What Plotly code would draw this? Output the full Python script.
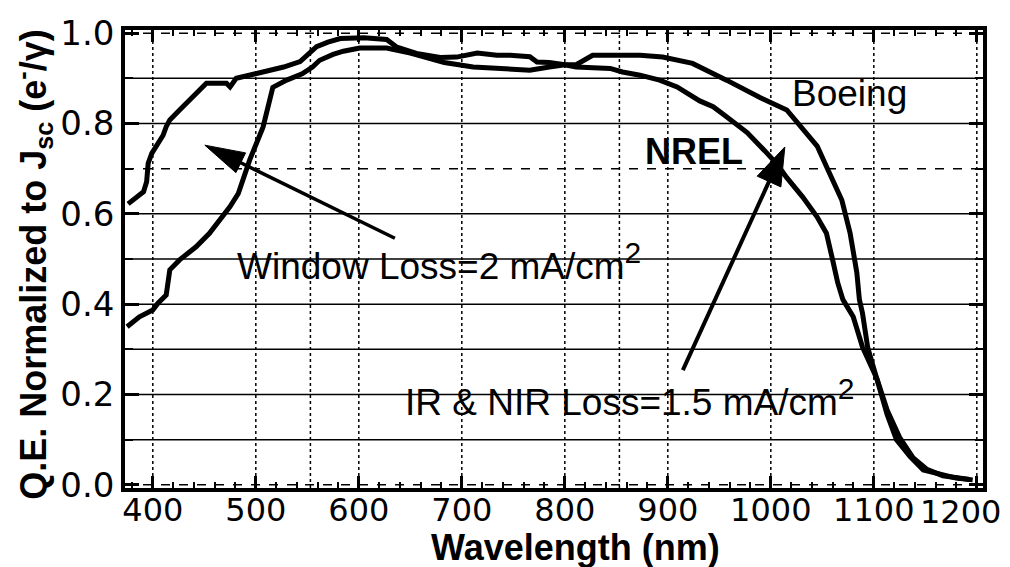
import math
import plotly.graph_objects as go

# ---- data ----
boeing_nm = [376, 386, 391, 394, 395.5, 399, 405, 410, 413, 416.5, 426, 436, 446, 452, 471.5, 475, 481,
             495, 513, 527, 543, 559, 570, 582, 605, 627, 637, 656, 679, 695, 715, 734, 747, 766, 773,
             785, 800, 811, 827, 850, 873, 895, 924, 957, 989, 1015.5, 1031, 1045, 1057, 1069, 1077,
             1083.5, 1086, 1089, 1094, 1103, 1113, 1122, 1135, 1148, 1164, 1180, 1196]
boeing_qe = [0.622, 0.638, 0.649, 0.671, 0.712, 0.734, 0.756, 0.774, 0.793, 0.808, 0.830, 0.852, 0.874,
             0.889, 0.889, 0.881, 0.900, 0.907, 0.918, 0.925, 0.937, 0.970, 0.980, 0.988, 0.990, 0.986,
             0.969, 0.955, 0.946, 0.947, 0.956, 0.951, 0.951, 0.948, 0.936, 0.935, 0.930, 0.930, 0.951,
             0.951, 0.951, 0.947, 0.933, 0.896, 0.858, 0.830, 0.790, 0.750, 0.690, 0.630, 0.557, 0.470,
             0.410, 0.380, 0.305, 0.232, 0.155, 0.100, 0.063, 0.033, 0.024, 0.015, 0.011]

nrel_nm = [375, 387, 400, 405, 413, 416.5, 426, 442, 455, 465, 475, 483, 494, 507, 516.5, 530, 545, 555,
           562, 575, 585, 601, 627, 650, 683, 711, 734, 753, 766, 785, 800, 811, 844, 856, 873, 892,
           909, 931, 944, 957, 977, 996, 1006, 1015.5, 1031, 1045, 1054, 1060, 1065, 1070, 1080, 1089,
           1103, 1113, 1125, 1138, 1151, 1167, 1180, 1193]
nrel_qe = [0.350, 0.372, 0.387, 0.402, 0.420, 0.476, 0.498, 0.527, 0.557, 0.586, 0.616, 0.645, 0.719,
           0.792, 0.880, 0.896, 0.910, 0.925, 0.940, 0.953, 0.960, 0.967, 0.967, 0.956, 0.935, 0.925,
           0.922, 0.920, 0.918, 0.925, 0.930, 0.925, 0.922, 0.914, 0.907, 0.896, 0.881, 0.850, 0.837,
           0.815, 0.780, 0.735, 0.710, 0.680, 0.637, 0.593, 0.557, 0.498, 0.447, 0.410, 0.372, 0.305,
           0.235, 0.165, 0.105, 0.060, 0.035, 0.020, 0.015, 0.012]

x_ticks = [400, 500, 600, 700, 800, 900, 1000, 1100, 1200]
x_tick_labels = ["400", "500", "600", "700", "800", "900", "1000", "1100", "1200"]
y_ticks = [0.0, 0.2, 0.4, 0.6, 0.8, 1.0]
h_grid_solid = [0.1, 0.2, 0.3, 0.4, 0.5, 0.6, 0.8, 0.9]
h_grid_dashed = [0.0, 0.7, 1.0]
v_grid = [400, 500, 553, 600, 700, 800, 853, 900, 1000, 1100, 1200]

# annotation arrows: (tail, tip) in data units
window_arrow = ((635, 0.546), (450.5, 0.752))
nir_arrow = ((914.6, 0.254), (1013.6, 0.748))

FONT = "Liberation Sans, Arial, Helvetica, sans-serif"
TICKFONT = "DejaVu Sans, Liberation Sans, Arial, sans-serif"

X_RANGE = [373, 1206]
Y_RANGE = [-0.007, 1.007]
W, H = 1002, 559
ML, MR, MT, MB = 117, 27, 22, 79
PXX = (W - ML - MR) / (X_RANGE[1] - X_RANGE[0])
PXY = (H - MT - MB) / (Y_RANGE[1] - Y_RANGE[0])


def arrow_shapes(tail, tip, head_len, head_w, width):
    dx = (tip[0] - tail[0]) * PXX
    dy = (tip[1] - tail[1]) * PXY
    n = math.hypot(dx, dy)
    ux, uy = dx / n, dy / n
    bx = tip[0] * PXX - ux * head_len
    by = tip[1] * PXY - uy * head_len
    px, py = -uy, ux
    c1 = ((bx + px * head_w / 2) / PXX, (by + py * head_w / 2) / PXY)
    c2 = ((bx - px * head_w / 2) / PXX, (by - py * head_w / 2) / PXY)
    base = ((bx + ux * 4) / PXX, (by + uy * 4) / PXY)
    line = dict(type="line", xref="x", yref="y", x0=tail[0], y0=tail[1], x1=base[0], y1=base[1],
                line=dict(color="black", width=width))
    head = dict(type="path", xref="x", yref="y",
                path=f"M{tip[0]},{tip[1]} L{c1[0]},{c1[1]} L{c2[0]},{c2[1]} Z",
                fillcolor="black", line=dict(color="black", width=1))
    return [line, head]


fig = go.Figure()
fig.add_trace(go.Scatter(x=boeing_nm, y=boeing_qe, mode="lines", name="Boeing",
                         line=dict(color="black", width=5)))
fig.add_trace(go.Scatter(x=nrel_nm, y=nrel_qe, mode="lines", name="NREL",
                         line=dict(color="black", width=5)))

shapes = []
for v in h_grid_solid:
    shapes.append(dict(type="line", xref="paper", x0=0, x1=1, yref="y", y0=v, y1=v,
                       line=dict(color="black", width=1.5), layer="below"))
for v in h_grid_dashed:
    shapes.append(dict(type="line", xref="paper", x0=0, x1=1, yref="y", y0=v, y1=v,
                       line=dict(color="black", width=1.5, dash="dash"), layer="below"))
for v in v_grid:
    shapes.append(dict(type="line", yref="paper", y0=0, y1=1, xref="x", x0=v, x1=v,
                       line=dict(color="black", width=1.5, dash="dot"), layer="below"))
shapes += arrow_shapes(window_arrow[0], window_arrow[1], 40, 22, 3.5)
shapes += arrow_shapes(nir_arrow[0], nir_arrow[1], 38, 26, 4)

ann = []
sup2 = '<sup><span style="font-size:30px">2</span></sup>'
ann.append(dict(x=479.6, y=0.494, xref="x", yref="y", xanchor="left", yanchor="middle",
                text="Window Loss=2 mA/cm" + sup2, showarrow=False,
                font=dict(family=FONT, size=37, color="black")))
ann.append(dict(x=642.7, y=0.193, xref="x", yref="y", xanchor="left", yanchor="middle",
                text="IR &amp; NIR Loss=1.5 mA/cm" + sup2, showarrow=False,
                font=dict(family=FONT, size=37, color="black")))
ann.append(dict(x=875.7, y=0.737, xref="x", yref="y", xanchor="left", yanchor="middle",
                text="<b>NREL</b>", showarrow=False,
                font=dict(family=FONT, size=36, color="black")))
ann.append(dict(x=1018.4, y=0.866, xref="x", yref="y", xanchor="left", yanchor="middle",
                text="Boeing", showarrow=False,
                font=dict(family=FONT, size=37, color="black")))
# last x tick label, nudged left so it stays inside the figure (as in the reference)
ann.append(dict(x=x_ticks[-1], y=-0.053, xref="x", yref="paper", xanchor="center", yanchor="middle",
                xshift=-16, text=x_tick_labels[-1], showarrow=False,
                font=dict(family=TICKFONT, size=32, color="black")))
# axis titles
ann.append(dict(x=0.5256, y=-0.131, xref="paper", yref="paper", xanchor="center", yanchor="middle",
                text="<b>Wavelength (nm)</b>", showarrow=False,
                font=dict(family=FONT, size=36, color="black")))
ann.append(dict(x=-0.1075, y=0.489, xref="paper", yref="paper", xanchor="center", yanchor="middle",
                textangle=-90,
                text="<b>Q.E. Normalized to J<sub>sc</sub> (e<sup>-</sup>/γ)</b>", showarrow=False,
                font=dict(family=FONT, size=36, color="black")))

fig.update_layout(
    width=W, height=H,
    margin=dict(l=ML, r=MR, t=MT, b=MB, autoexpand=False),
    paper_bgcolor="white", plot_bgcolor="white",
    showlegend=False,
    shapes=shapes, annotations=ann,
    font=dict(family=FONT, size=36, color="black"),
)
fig.update_xaxes(range=X_RANGE, tickvals=x_ticks, ticktext=x_tick_labels[:-1] + [""],
                 showgrid=False, zeroline=False, automargin=False,
                 showline=True, linecolor="black", linewidth=3.5, mirror="allticks",
                 ticks="inside", ticklen=12, tickwidth=2.5, tickcolor="black",
                 ticklabeloverflow="allow", ticklabelstandoff=-9,
                 tickfont=dict(family=TICKFONT, size=32, color="black"),
                 minor=dict(dtick=20, tick0=400, ticks="inside", ticklen=6, tickwidth=2, tickcolor="black"))
fig.update_yaxes(range=Y_RANGE, tickvals=y_ticks, tickformat=".1f", showgrid=False, automargin=False,
                 zeroline=False, showline=True, linecolor="black", linewidth=3.5, mirror="allticks",
                 ticks="inside", ticklen=14, tickwidth=2.5, tickcolor="black",
                 ticklabeloverflow="allow",
                 tickfont=dict(family=TICKFONT, size=34, color="black"),
                 minor=dict(dtick=0.1, tick0=0, ticks="inside", ticklen=8, tickwidth=2, tickcolor="black"))

fig.write_html("out.html")
